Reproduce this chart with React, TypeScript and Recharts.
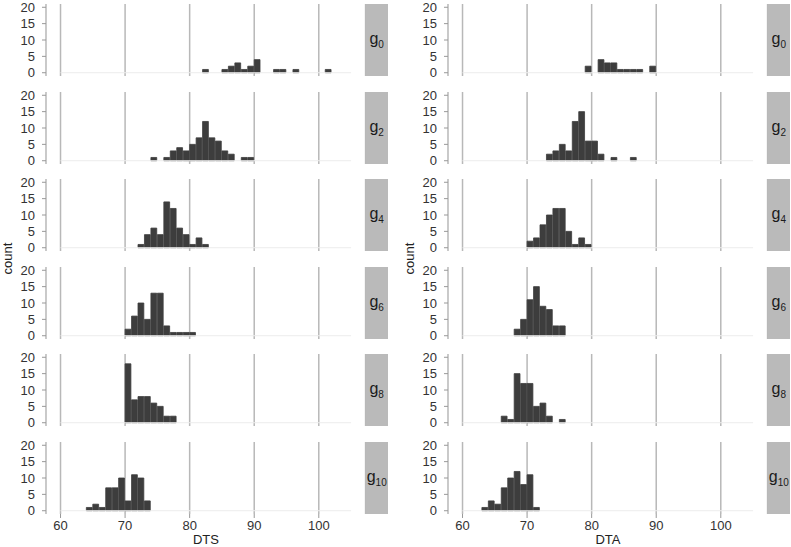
import React from 'react';
import { BarChart, Bar, XAxis, YAxis, CartesianGrid, ReferenceLine } from 'recharts';

// histogram bins (left edge of each 1-unit bin) and counts
const dtsG0Bins = [82, 85, 86, 87, 88, 89, 90, 93, 94, 96, 101];
const dtsG0Counts = [1, 1, 2, 3, 1, 2, 4, 1, 1, 1, 1];
const dtsG2Bins = [74, 76, 77, 78, 79, 80, 81, 82, 83, 84, 85, 86, 88, 89];
const dtsG2Counts = [1, 1, 3, 4, 3, 5, 7, 12, 7, 6, 3, 2, 1, 1];
const dtsG4Bins = [72, 73, 74, 75, 76, 77, 78, 79, 80, 81, 82];
const dtsG4Counts = [1, 4, 6, 4, 14, 12, 6, 4, 1, 3, 1];
const dtsG6Bins = [70, 71, 72, 73, 74, 75, 76, 77, 78, 79, 80];
const dtsG6Counts = [2, 6, 10, 5, 13, 13, 3, 1, 1, 1, 1];
const dtsG8Bins = [70, 71, 72, 73, 74, 75, 76, 77];
const dtsG8Counts = [18, 7, 8, 8, 6, 5, 2, 2];
const dtsG10Bins = [64, 65, 66, 67, 68, 69, 70, 71, 72, 73];
const dtsG10Counts = [1, 2, 1, 7, 7, 10, 3, 11, 10, 3];

const dtaG0Bins = [79, 81, 82, 83, 84, 85, 86, 87, 89];
const dtaG0Counts = [2, 4, 3, 3, 1, 1, 1, 1, 2];
const dtaG2Bins = [73, 74, 75, 76, 77, 78, 79, 80, 81, 83, 86];
const dtaG2Counts = [2, 3, 5, 3, 12, 15, 6, 6, 2, 1, 1];
const dtaG4Bins = [70, 71, 72, 73, 74, 75, 76, 77, 78, 79];
const dtaG4Counts = [2, 3, 7, 10, 12, 12, 5, 1, 3, 1];
const dtaG6Bins = [68, 69, 70, 71, 72, 73, 74, 75];
const dtaG6Counts = [2, 5, 11, 15, 9, 8, 3, 3];
const dtaG8Bins = [66, 67, 68, 69, 70, 71, 72, 73, 75];
const dtaG8Counts = [2, 1, 15, 12, 12, 5, 6, 2, 1];
const dtaG10Bins = [63, 64, 65, 66, 67, 68, 69, 70, 71];
const dtaG10Counts = [1, 3, 2, 7, 10, 12, 8, 11, 1];

const groupLabels = ['0', '2', '4', '6', '8', '10'];
const xTicks = [60, 70, 80, 90, 100];
const yTicks = [0, 5, 10, 15, 20];
const binRange = [60, 105];

const columns = [
  {
    title: 'DTS',
    bins: [dtsG0Bins, dtsG2Bins, dtsG4Bins, dtsG6Bins, dtsG8Bins, dtsG10Bins],
    counts: [dtsG0Counts, dtsG2Counts, dtsG4Counts, dtsG6Counts, dtsG8Counts, dtsG10Counts],
  },
  {
    title: 'DTA',
    bins: [dtaG0Bins, dtaG2Bins, dtaG4Bins, dtaG6Bins, dtaG8Bins, dtaG10Bins],
    counts: [dtaG0Counts, dtaG2Counts, dtaG4Counts, dtaG6Counts, dtaG8Counts, dtaG10Counts],
  },
];

// layout
const FONT = '"Liberation Sans", Arial, sans-serif';
const COL_LEFT = [46.1, 448.2];
const PW = 319.6;
const PH = 72;
const TOP0 = 4;
const PITCH = 87.6;
const Y_W = 46;
const X_H = 22;
const PAD = 8; // room so the top/bottom tick labels are not clipped
const STRIP_W = 22;

const toRows = (bins: number[], counts: number[]) =>
  bins.map((b, i) => ({ mid: b + 0.5, count: counts[i] }));

const Panel = ({ bins, counts, left, top, showX, label }: any) => {
  const w = Y_W + PW;
  const bottomPad = showX ? X_H : PAD;
  const h = PH + PAD + bottomPad;
  return (
    <>
      <div style={{ position: 'absolute', left: left - Y_W, top: top - PAD, width: w, height: h }}>
        <BarChart
          width={w}
          height={h}
          data={toRows(bins, counts)}
          margin={{ top: PAD, right: 0, bottom: showX ? 0 : PAD, left: 0 }}
          barCategoryGap={0}
          barGap={0}
        >
          <CartesianGrid horizontal={false} stroke="#b8b8b8" strokeWidth={1.5} />
          <XAxis
            type="number"
            dataKey="mid"
            domain={[57.75, 107.25]}
            ticks={xTicks}
            interval={0}
            hide={!showX}
            height={X_H}
            axisLine={false}
            tickSize={4}
            tickMargin={3}
            tickLine={{ stroke: '#999' }}
            tick={{ fontSize: 13, fill: '#333', fontFamily: FONT }}
          />
          <YAxis
            type="number"
            domain={[-1, 21]}
            ticks={yTicks}
            interval={0}
            width={Y_W}
            axisLine={false}
            tickSize={4}
            tickMargin={7}
            tickLine={{ stroke: '#999' }}
            tick={{ fontSize: 13, fill: '#333', fontFamily: FONT }}
          />
          <ReferenceLine
            segment={[{ x: binRange[0], y: 0 }, { x: binRange[1], y: 0 }]}
            stroke="#ececec"
            strokeWidth={1}
          />
          <Bar
            dataKey="count"
            barSize="99.9%"
            fill="#3d3d3d"
            stroke="#3d3d3d"
            strokeWidth={0.8}
            isAnimationActive={false}
          />
        </BarChart>
      </div>
      <div
        style={{
          position: 'absolute',
          left: left + PW,
          top,
          width: STRIP_W,
          height: PH,
          background: '#bababa',
          display: 'flex',
          alignItems: 'center',
          justifyContent: 'center',
          fontFamily: FONT,
          fontSize: 16,
          color: '#1a1a1a',
        }}
      >
        <span>
          g<sub style={{ fontSize: 10 }}>{label}</sub>
        </span>
      </div>
    </>
  );
};

export default function App() {
  const lastTop = TOP0 + PITCH * 5;
  const midY = (TOP0 + lastTop + PH) / 2;
  return (
    <div style={{ position: 'absolute', left: 0, top: 0, width: 791, height: 547, background: '#fff', fontFamily: FONT }}>
      {columns.map((col, c) =>
        col.bins.map((bins, g) => (
          <Panel
            key={`${c}-${g}`}
            bins={bins}
            counts={col.counts[g]}
            left={COL_LEFT[c]}
            top={TOP0 + PITCH * g}
            showX={g === 5}
            label={groupLabels[g]}
          />
        ))
      )}
      {columns.map((col, c) => (
        <React.Fragment key={col.title}>
          <div
            style={{
              position: 'absolute',
              left: COL_LEFT[c],
              width: PW,
              top: 532,
              textAlign: 'center',
              fontSize: 13,
              color: '#222',
            }}
          >
            {col.title}
          </div>
          <div
            style={{
              position: 'absolute',
              left: COL_LEFT[c] - 39 - 30,
              top: midY - 8,
              width: 60,
              textAlign: 'center',
              fontSize: 13,
              color: '#222',
              transform: 'rotate(-90deg)',
            }}
          >
            count
          </div>
        </React.Fragment>
      ))}
    </div>
  );
}
